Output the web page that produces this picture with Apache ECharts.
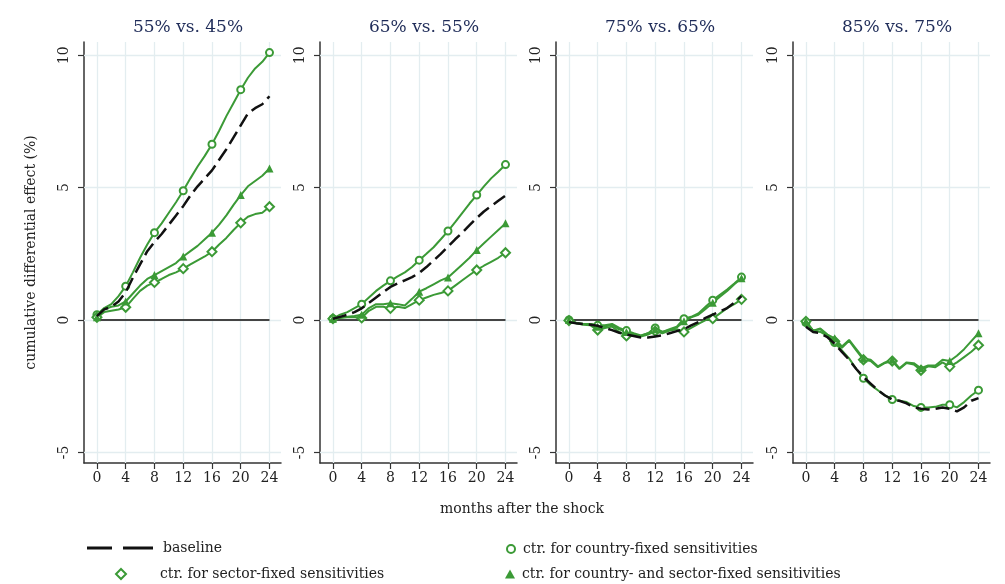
<!DOCTYPE html>
<html>
<head>
<meta charset="utf-8">
<script src="https://cdn.jsdelivr.net/npm/echarts@6/dist/echarts.min.js"></script>
<style>
  html, body { margin: 0; padding: 0; background: #fff; }
  #main { width: 1005px; height: 584px; }
</style>
</head>
<body>
<div id="main"></div>
<script>
// months after the shock
var months = [0,1,2,3,4,5,6,7,8,9,10,11,12,13,14,15,16,17,18,19,20,21,22,23,24];
var xTicks = [0, 4, 8, 12, 16, 20, 24];
var yTicks = [-5, 0, 5, 10];
var panelTitles = ['55% vs. 45%', '65% vs. 55%', '75% vs. 65%', '85% vs. 75%'];

// 55% vs. 45%
var base1 = [0.15,0.4,0.5,0.7,1.05,1.6,2.1,2.6,2.95,3.25,3.6,3.95,4.3,4.7,5.05,5.35,5.65,6.05,6.45,6.9,7.35,7.8,8.0,8.15,8.45];
var ctry1 = [0.2,0.45,0.6,0.9,1.28,1.8,2.35,2.85,3.3,3.65,4.05,4.45,4.88,5.35,5.8,6.2,6.64,7.15,7.7,8.2,8.7,9.15,9.5,9.75,10.1];
var sect1 = [0.1,0.3,0.35,0.4,0.48,0.8,1.1,1.3,1.42,1.55,1.7,1.8,1.94,2.1,2.25,2.4,2.58,2.85,3.1,3.4,3.67,3.9,4.0,4.05,4.28];
var both1 = [0.1,0.4,0.5,0.55,0.7,1.0,1.3,1.55,1.7,1.85,2.0,2.15,2.4,2.6,2.8,3.05,3.3,3.6,3.95,4.35,4.72,5.05,5.25,5.45,5.72];

// 65% vs. 55%
var base2 = [0.05,0.12,0.2,0.3,0.44,0.65,0.85,1.05,1.25,1.38,1.5,1.62,1.78,2.0,2.25,2.5,2.77,3.05,3.3,3.58,3.85,4.1,4.3,4.5,4.7];
var ctry2 = [0.05,0.2,0.3,0.45,0.6,0.85,1.1,1.3,1.48,1.65,1.8,2.0,2.26,2.5,2.75,3.05,3.36,3.7,4.05,4.4,4.72,5.05,5.35,5.6,5.87];
var sect2 = [0.05,0.08,0.1,0.1,0.08,0.35,0.5,0.5,0.44,0.5,0.45,0.6,0.75,0.85,0.95,1.02,1.1,1.3,1.5,1.7,1.89,2.05,2.2,2.35,2.54];
var both2 = [0.05,0.1,0.12,0.15,0.2,0.45,0.6,0.6,0.63,0.6,0.55,0.8,1.07,1.2,1.35,1.5,1.61,1.85,2.1,2.35,2.64,2.9,3.15,3.4,3.65];

// 75% vs. 65%
var base3 = [-0.08,-0.12,-0.15,-0.18,-0.22,-0.3,-0.38,-0.48,-0.55,-0.6,-0.66,-0.66,-0.62,-0.58,-0.5,-0.42,-0.35,-0.2,-0.08,0.08,0.2,0.32,0.45,0.65,0.9];
var ctry3 = [0,-0.12,-0.15,-0.15,-0.2,-0.2,-0.15,-0.3,-0.4,-0.5,-0.58,-0.5,-0.3,-0.45,-0.35,-0.25,0.05,0.12,0.25,0.5,0.75,0.95,1.15,1.38,1.62];
var sect3 = [-0.02,-0.12,-0.18,-0.2,-0.38,-0.3,-0.25,-0.45,-0.6,-0.55,-0.62,-0.55,-0.42,-0.5,-0.4,-0.35,-0.45,-0.3,-0.15,0.0,0.05,0.25,0.45,0.6,0.78];
var both3 = [0,-0.1,-0.15,-0.15,-0.25,-0.25,-0.18,-0.35,-0.45,-0.55,-0.6,-0.5,-0.35,-0.45,-0.38,-0.28,-0.05,0.1,0.2,0.42,0.65,0.88,1.1,1.35,1.58];

// 85% vs. 75%
var base4 = [-0.25,-0.45,-0.5,-0.65,-0.9,-1.2,-1.5,-1.85,-2.15,-2.4,-2.65,-2.85,-3.0,-3.05,-3.15,-3.3,-3.35,-3.38,-3.35,-3.3,-3.35,-3.45,-3.3,-3.05,-2.95];
var ctry4 = [-0.1,-0.4,-0.45,-0.6,-0.85,-1.15,-1.45,-1.85,-2.2,-2.45,-2.65,-2.85,-3.0,-3.05,-3.1,-3.25,-3.3,-3.3,-3.28,-3.2,-3.2,-3.3,-3.1,-2.85,-2.65];
var sect4 = [-0.05,-0.4,-0.35,-0.6,-0.8,-1.05,-0.78,-1.15,-1.5,-1.55,-1.78,-1.62,-1.55,-1.85,-1.62,-1.68,-1.9,-1.75,-1.78,-1.6,-1.76,-1.6,-1.4,-1.2,-0.95];
var both4 = [-0.05,-0.4,-0.32,-0.55,-0.69,-1.0,-0.75,-1.1,-1.45,-1.5,-1.75,-1.6,-1.5,-1.82,-1.6,-1.63,-1.82,-1.72,-1.72,-1.5,-1.55,-1.35,-1.1,-0.8,-0.5];

var panels = [
  [base1, ctry1, sect1, both1],
  [base2, ctry2, sect2, both2],
  [base3, ctry3, sect3, both3],
  [base4, ctry4, sect4, both4]
];

var names = ['baseline', 'ctr. for country-fixed sensitivities',
  'ctr. for sector-fixed sensitivities', 'ctr. for country- and sector-fixed sensitivities'];

var green = '#3b9a36';
var font = 'DejaVu Serif';
var gridLefts = [84, 320, 556, 793];

function pairs(vals) {
  return months.map(function (m, i) { return [m, vals[i]]; });
}
function marker(name) {
  return function (v, p) { return p.dataIndex % 4 === 0 ? name : 'none'; };
}

var chart = echarts.init(document.getElementById('main'));

var grids = [], xAxes = [], yAxes = [], series = [], titles = [];
gridLefts.forEach(function (left, k) {
  grids.push({ left: left, top: 42, width: 197, height: 421 });
  xAxes.push({
    type: 'value', gridIndex: k, min: -1.8, max: 25.6,
    axisLine: { onZero: false, lineStyle: { color: '#333', width: 1.5 } },
    axisTick: { customValues: xTicks, length: 6, lineStyle: { color: '#333', width: 1.2 } },
    axisLabel: { customValues: xTicks, color: '#222', fontFamily: font, fontSize: 14, margin: 8 },
    splitLine: { show: false }
  });
  yAxes.push({
    type: 'value', gridIndex: k, min: -5.4, max: 10.5,
    name: k === 0 ? 'cumulative differential effect (%)' : '',
    nameLocation: 'middle', nameGap: 46, nameRotate: 90,
    nameTextStyle: { color: '#222', fontFamily: font, fontSize: 14 },
    axisLine: { show: true, onZero: false, lineStyle: { color: '#333', width: 1.5 } },
    axisTick: { show: true, customValues: yTicks, length: 6, lineStyle: { color: '#333', width: 1.2 } },
    axisLabel: { customValues: yTicks, rotate: 90, color: '#222', fontFamily: font, fontSize: 14, margin: 13 },
    splitLine: { show: false }
  });
  titles.push({
    text: panelTitles[k], left: left + 13 + 86, top: 14, textAlign: 'center',
    textStyle: { color: '#1e2b58', fontFamily: font, fontSize: 17, fontWeight: 'normal' }
  });

  // light grid lines and the dark zero line
  series.push({
    type: 'line', xAxisIndex: k, yAxisIndex: k, silent: true,
    data: [[0, 0], [24, 0]], symbol: 'none',
    lineStyle: { color: '#444', width: 2 }, z: 3,
    markLine: {
      silent: true, symbol: 'none', label: { show: false },
      lineStyle: { color: '#e3edf0', width: 1.3, type: 'solid' },
      data: xTicks.map(function (t) { return { xAxis: t }; })
        .concat(yTicks.map(function (t) { return { yAxis: t }; })),
      z: 1
    }
  });

  var d = panels[k];
  series.push({
    name: names[1], type: 'line', xAxisIndex: k, yAxisIndex: k,
    data: pairs(d[1]), symbol: marker('emptyCircle'), symbolSize: 7, showAllSymbol: true,
    itemStyle: { color: green, borderWidth: 1.5 }, lineStyle: { color: green, width: 2 }, z: 4
  });
  series.push({
    name: names[2], type: 'line', xAxisIndex: k, yAxisIndex: k,
    data: pairs(d[2]), symbol: marker('emptyDiamond'), symbolSize: 9, showAllSymbol: true,
    itemStyle: { color: green, borderWidth: 1.5 }, lineStyle: { color: green, width: 2 }, z: 4
  });
  series.push({
    name: names[3], type: 'line', xAxisIndex: k, yAxisIndex: k,
    data: pairs(d[3]), symbol: marker('triangle'), symbolSize: 8, showAllSymbol: true,
    itemStyle: { color: green }, lineStyle: { color: green, width: 2 }, z: 4
  });
  series.push({
    name: names[0], type: 'line', xAxisIndex: k, yAxisIndex: k,
    data: pairs(d[0]), symbol: 'none',
    lineStyle: { color: '#111', width: 2.5, type: [14, 6] }, z: 5
  });
});

titles.push({
  text: 'months after the shock', left: 517, top: 497, textAlign: 'center',
  textStyle: { color: '#222', fontFamily: font, fontSize: 14, fontWeight: 'normal' }
});

function legendAt(left, top, name, icon, w, h, style, pad) {
  return {
    left: left, top: top, selectedMode: false, itemWidth: w, itemHeight: h,
    data: [{ name: name, icon: icon, itemStyle: style }],
    textStyle: { color: '#222', fontFamily: font, fontSize: 14, padding: [0, 0, 0, pad] }
  };
}

var option = {
  animation: false,
  backgroundColor: '#fff',
  title: titles,
  grid: grids,
  xAxis: xAxes,
  yAxis: yAxes,
  legend: [
    legendAt(82, 536, names[0], 'path://M0,0H25V3H0Z M36,0H66V3H36Z', 66, 3, { color: '#111', borderWidth: 0 }, 5),
    legendAt(110, 562, names[2], 'diamond', 10, 10, { color: '#fff', borderColor: green, borderWidth: 2, opacity: 1 }, 29),
    legendAt(501, 537, names[1], 'circle', 8, 8, { color: '#fff', borderColor: green, borderWidth: 2, opacity: 1 }, 3),
    legendAt(500, 562, names[3], 'triangle', 10, 9, { color: green, borderWidth: 0 }, 2)
  ],
  series: series
};

chart.setOption(option);
</script>
</body>
</html>
